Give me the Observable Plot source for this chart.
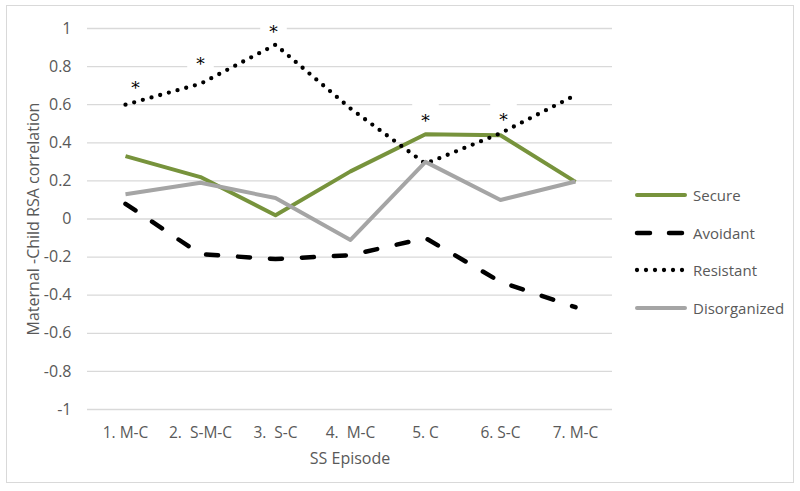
<!DOCTYPE html>
<html>
<head>
<meta charset="utf-8">
<script src="https://cdn.jsdelivr.net/npm/d3@7"></script>
<script src="https://cdn.jsdelivr.net/npm/@observablehq/plot@0.6"></script>
<style>
  html, body { margin: 0; padding: 0; background: #fff; }
  #wrap { position: relative; width: 800px; height: 491px; font-family: "Open Sans", sans-serif; }
  #frame { position: absolute; left: 6px; top: 5px; width: 788px; height: 478px; border: 1px solid #d9d9d9; box-sizing: border-box; pointer-events: none; }
  #legend { position: absolute; left: 634px; top: 176px; color: #595959; font-size: 15px; }
  .item { display: flex; align-items: center; height: 37.7px; }
  .item svg { margin-right: 5px; }
</style>
</head>
<body>
<div id="wrap">
  <div id="chart"></div>
  <div id="frame"></div>
  <div id="legend"></div>
</div>
<script>
const episodes = ["1. M-C", "2.\u00a0 S-M-C", "3.\u00a0 S-C", "4.\u00a0 M-C", "5. C", "6. S-C", "7. M-C"];
const secure = [0.33, 0.22, 0.02, 0.25, 0.445, 0.44, 0.195];
const avoidant = [0.08, -0.185, -0.21, -0.19, -0.10, -0.33, -0.463];
const resistant = [0.60, 0.71, 0.915, 0.58, 0.29, 0.45, 0.65];
const disorganized = [0.13, 0.19, 0.11, -0.11, 0.30, 0.10, 0.197];
const seriesNames = ["Secure", "Avoidant", "Resistant", "Disorganized"];
const yTicks = [1, 0.8, 0.6, 0.4, 0.2, 0, -0.2, -0.4, -0.6, -0.8, -1];
// significance markers (episode index, label height)
const starEpisodes = [0, 1, 2, 4, 5];
const starValues = [0.705, 0.83, 1.0, 0.535, 0.54];
const starOffsets = [10, 0, -2, 0, 3];

const styles = {
  Secure: {stroke: "#77933c", strokeWidth: 4, dash: null, cap: "butt"},
  Avoidant: {stroke: "#000000", strokeWidth: 4.5, dash: "12 20", cap: "round"},
  Resistant: {stroke: "#000000", strokeWidth: 4.3, dash: "0 9", cap: "round"},
  Disorganized: {stroke: "#a5a5a5", strokeWidth: 4, dash: null, cap: "butt"}
};
const values = {Secure: secure, Avoidant: avoidant, Resistant: resistant, Disorganized: disorganized};

const stars = starEpisodes.map((e, i) => ({ep: episodes[e], v: starValues[i], dx: starOffsets[i]}));

const lineMarks = seriesNames.map(name => {
  const s = styles[name];
  const data = episodes.map((ep, i) => ({ep, v: values[name][i]}));
  return Plot.line(data, {
    x: "ep", y: "v", stroke: s.stroke, strokeWidth: s.strokeWidth,
    strokeDasharray: s.dash, strokeLinecap: s.cap, strokeLinejoin: "round"
  });
});

const chart = Plot.plot({
  width: 800,
  height: 491,
  marginLeft: 87,
  marginRight: 188,
  marginTop: 28,
  marginBottom: 82,
  style: {fontFamily: "Open Sans, sans-serif", fontSize: "15px", color: "#595959", background: "transparent"},
  x: {type: "point", domain: episodes, padding: 0.5, label: null},
  y: {domain: [-1, 1], label: null},
  marks: [
    Plot.ruleY(yTicks, {stroke: "#d9d9d9", strokeWidth: 1.3}),
    Plot.axisY({ticks: yTicks, tickSize: 0, tickPadding: 16, tickFormat: d => String(Math.round(d * 10) / 10), fill: "#595959", fontSize: 16}),
    Plot.axisX({tickSize: 0, tickPadding: 17, fill: "#595959", fontSize: 15.5}),
    Plot.dot(stars, {x: "ep", y: "v", symbol: "square", r: 15, fill: "white", stroke: null}),
    ...lineMarks,
    Plot.text(stars, {x: "ep", y: "v", text: () => "*", fill: "black", fontSize: 17, fontFamily: "DejaVu Serif", dy: 4}),
    Plot.text(["SS Episode"], {frameAnchor: "bottom", text: d => d, dy: 54, fill: "#595959", fontSize: 16}),
    Plot.text(["Maternal -Child RSA correlation"], {frameAnchor: "left", textAnchor: "middle", text: d => d, rotate: -90, dx: -54, fill: "#595959", fontSize: 16})
  ]
});
document.getElementById("chart").appendChild(chart);

// apply per-star horizontal offsets (text and its white box)
chart.querySelectorAll("g[aria-label='text'], g[aria-label='dot']").forEach(g => {
  const ts = g.querySelectorAll("text, path");
  if (ts.length === stars.length) ts.forEach((t, i) => {
    const cur = t.getAttribute("transform") || "";
    t.setAttribute("transform", cur + ` translate(${stars[i].dx},0)`);
  });
});

// legend
const legend = document.getElementById("legend");
seriesNames.forEach(name => {
  const s = styles[name];
  const item = document.createElement("div");
  item.className = "item";
  item.innerHTML = `<svg width="54" height="10"><line x1="3" x2="51" y1="5" y2="5" stroke="${s.stroke}" stroke-width="${s.strokeWidth}" stroke-linecap="round" ${s.dash ? `stroke-dasharray="${name === "Avoidant" ? "13 19" : "0 9"}"` : ""}/></svg><span>${name}</span>`;
  legend.appendChild(item);
});
</script>
</body>
</html>
